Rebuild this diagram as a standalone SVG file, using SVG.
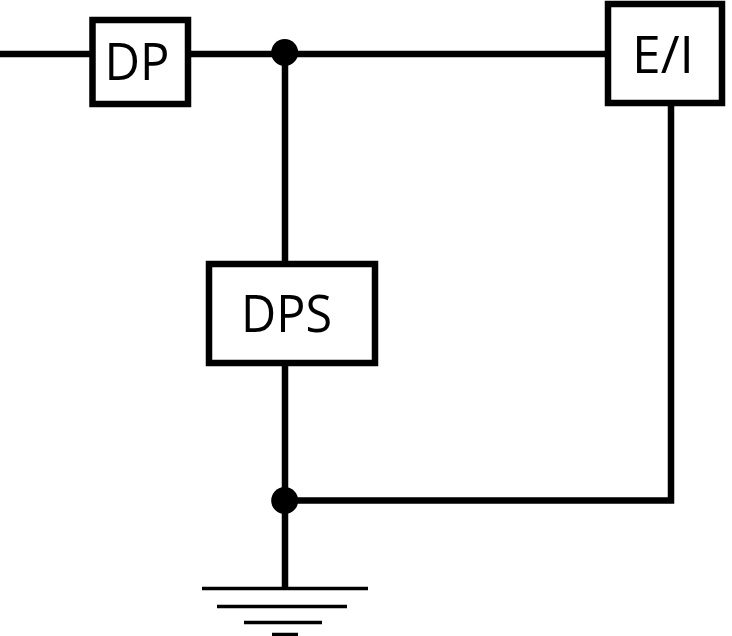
<svg xmlns="http://www.w3.org/2000/svg" width="732" height="636" viewBox="0 0 732 636">
<style>
.w{stroke:#000;stroke-width:6.500;fill:none}
.b{stroke:#000;stroke-width:6.500;fill:#fff}
.g{stroke:#000;stroke-width:3.500;fill:none}
text{font-family:"Open Sans","Noto Sans","DejaVu Sans",sans-serif;font-size:51px;fill:#000}
</style>
<rect width="732" height="636" fill="#fff"/>
<g id="connectors">
<path class="w" d="M0 54H91M188 54H608M285 53V264M285 362V588M285 500.500H671V103"/>
<circle cx="284.700" cy="52.500" r="13.500"/>
<circle cx="284.700" cy="500.500" r="13.500"/>
<path class="g" d="M202 588.500H368M217 606.500H347M244 622.500H322M272 634.500H298"/>
</g>
<g id="dp"><rect class="b" x="92.500" y="20" width="95.500" height="84"/><text x="104.500" y="80" textLength="65" lengthAdjust="spacingAndGlyphs">DP</text></g>
<g id="ei"><rect class="b" x="608" y="4" width="114" height="99"/><text x="632" y="73" textLength="62" lengthAdjust="spacingAndGlyphs">E/I</text></g>
<g id="dps"><rect class="b" x="209" y="264" width="166" height="99"/><text x="241" y="332" textLength="91" lengthAdjust="spacingAndGlyphs">DPS</text></g>
</svg>
